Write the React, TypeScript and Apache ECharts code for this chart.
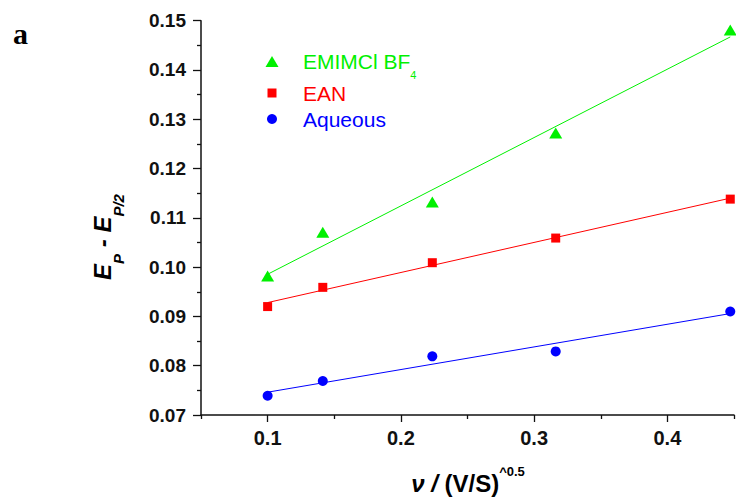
import React, { useEffect, useRef } from 'react';
import * as echarts from 'echarts';

// Scan rate^0.5 values (V/s)^0.5
const xValues = [0.1, 0.1414, 0.2236, 0.3162, 0.4472];
// Ep - Ep/2 values
const emimValues = [0.0982, 0.1071, 0.1132, 0.1272, 0.1481];
const eanValues = [0.092, 0.0959, 0.1009, 0.1059, 0.1138];
const aqueousValues = [0.0739, 0.0769, 0.0819, 0.0829, 0.091];

const seriesNames = ['EMIMCl BF4', 'EAN', 'Aqueous'];
const seriesColors = ['#00f000', '#ff0000', '#0000ff'];

const xMajorTicks = [0.1, 0.2, 0.3, 0.4];
const xMinorTicks = [0.05, 0.15, 0.25, 0.35, 0.45];

const FONT = 'Liberation Sans, Arial, sans-serif';

function linearFit(xs: number[], ys: number[]): number[][] {
  const n = xs.length;
  const mx = xs.reduce((a, b) => a + b, 0) / n;
  const my = ys.reduce((a, b) => a + b, 0) / n;
  let sxy = 0;
  let sxx = 0;
  for (let i = 0; i < n; i++) {
    sxy += (xs[i] - mx) * (ys[i] - my);
    sxx += (xs[i] - mx) * (xs[i] - mx);
  }
  const slope = sxy / sxx;
  const icpt = my - slope * mx;
  const x0 = Math.min(...xs);
  const x1 = Math.max(...xs);
  return [
    [x0, icpt + slope * x0],
    [x1, icpt + slope * x1],
  ];
}

function pairs(xs: number[], ys: number[]): number[][] {
  return xs.map((x, i) => [x, ys[i]]);
}

export default function App() {
  const ref = useRef<HTMLDivElement>(null);

  useEffect(() => {
    if (!ref.current) return;
    const chart = echarts.init(ref.current, null, { renderer: 'svg' });
    const allY = [emimValues, eanValues, aqueousValues];
    const symbols = ['triangle', 'rect', 'circle'];
    const symbolSizes: any[] = [[13, 11], 9, 10];

    const fitSeries = allY.map((ys, i) => ({
      type: 'line',
      name: seriesNames[i] + ' fit',
      data: linearFit(xValues, ys),
      symbol: 'none',
      lineStyle: { color: seriesColors[i], width: 1 },
      itemStyle: { color: seriesColors[i] },
      z: 1,
      silent: true,
    }));
    const scatterSeries = allY.map((ys, i) => ({
      type: 'scatter',
      name: seriesNames[i],
      data: pairs(xValues, ys),
      symbol: symbols[i],
      symbolSize: symbolSizes[i],
      symbolKeepAspect: true,
      itemStyle: { color: seriesColors[i], opacity: 1 },
      clip: false,
      z: 3,
    }));

    // icon centre x = 272, text starts at x = 303
    const legendTops = [51, 82.5, 108.5];
    const legendIconW = [13, 9, 10];
    const legendIconH = [11, 9, 10];
    const legends = seriesNames.map((name, i) => ({
      data: [name],
      orient: 'vertical',
      left: 272 - legendIconW[i] / 2,
      top: legendTops[i],
      padding: 0,
      itemWidth: legendIconW[i],
      itemHeight: legendIconH[i],
      symbolKeepAspect: true,
      selectedMode: false,
      formatter: i === 0 ? '{m|EMIMCl BF}{s|4}' : '{m|' + name + '}',
      textStyle: {
        color: seriesColors[i],
        fontFamily: FONT,
        fontSize: 21,
        rich: {
          m: {
            color: seriesColors[i],
            fontFamily: FONT,
            fontSize: 21,
            lineHeight: i === 0 ? 37 : 21,
            padding: [0, 0, 0, 303 - (272 + legendIconW[i] / 2) - 5],
          },
          s: {
            color: seriesColors[i],
            fontFamily: FONT,
            fontSize: 11,
            lineHeight: 11,
            verticalAlign: 'bottom',
          },
        },
      },
    }));

    chart.setOption({
      animation: false,
      backgroundColor: '#ffffff',
      grid: { left: 201, top: 20.7, right: 2, bottom: 82, containLabel: false },
      legend: legends,
      xAxis: [
        {
          type: 'value',
          position: 'bottom',
          min: 0.05,
          max: 0.45,
          interval: 0.05,
          axisLine: { show: true, onZero: false, lineStyle: { color: '#111', width: 1.5 } },
          axisTick: { show: true, length: 7, customValues: xMajorTicks, lineStyle: { color: '#111', width: 1.3 } },
          axisLabel: {
            customValues: xMajorTicks,
            formatter: (v: number) => v.toFixed(1),
            color: '#111',
            fontFamily: FONT,
            fontWeight: 'bold',
            fontSize: 20,
            margin: 13,
          },
          splitLine: { show: false },
        },
        {
          type: 'value',
          position: 'bottom',
          min: 0.05,
          max: 0.45,
          interval: 0.05,
          axisLine: { show: false, onZero: false },
          axisTick: { show: true, length: 4, customValues: xMinorTicks, lineStyle: { color: '#111', width: 1.3 } },
          axisLabel: { show: false },
          splitLine: { show: false },
        },
      ],
      yAxis: {
        type: 'value',
        min: 0.07,
        max: 0.15,
        interval: 0.01,
        axisLine: { show: true, onZero: false, lineStyle: { color: '#111', width: 1.5 } },
        axisTick: { show: true, length: 8, lineStyle: { color: '#111', width: 1.3 } },
        minorTick: { show: true, splitNumber: 2, length: 4, lineStyle: { color: '#111', width: 1.3 } },
        axisLabel: {
          formatter: (v: number) => v.toFixed(2),
          color: '#111',
          fontFamily: FONT,
          fontWeight: 'bold',
          fontSize: 19,
          margin: 15,
        },
        splitLine: { show: false },
        minorSplitLine: { show: false },
      },
      graphic: [
        {
          type: 'text',
          x: 13,
          y: 33,
          style: {
            text: 'a',
            fill: '#000',
            font: 'bold 30px "Liberation Serif", "Times New Roman", serif',
            align: 'left',
            verticalAlign: 'middle',
          },
        },
        {
          type: 'text',
          x: 102,
          y: 237,
          rotation: Math.PI / 2,
          style: {
            text: '{m|E}{s|P}{m| - E}{s|P/2}',
            align: 'center',
            verticalAlign: 'middle',
            fill: '#000',
            rich: {
              m: { fontFamily: FONT, fontWeight: 'bold', fontStyle: 'italic', fontSize: 24, lineHeight: 48, fill: '#000' },
              s: { fontFamily: FONT, fontWeight: 'bold', fontStyle: 'italic', fontSize: 15, lineHeight: 15, verticalAlign: 'bottom', fill: '#000' },
            },
          },
        },
        {
          type: 'text',
          x: 468,
          y: 483,
          style: {
            text: '{i|ν / }{m|(V/S)}{p|^0.5}',
            align: 'center',
            verticalAlign: 'middle',
            fill: '#000',
            rich: {
              i: { fontFamily: FONT, fontWeight: 'bold', fontStyle: 'italic', fontSize: 24, lineHeight: 44, fill: '#000' },
              m: { fontFamily: FONT, fontWeight: 'bold', fontSize: 24, lineHeight: 44, fill: '#000' },
              p: { fontFamily: FONT, fontWeight: 'bold', fontSize: 13, lineHeight: 13, verticalAlign: 'top', padding: [4, 0, 0, 0], fill: '#000' },
            },
          },
        },
      ],
      series: [...fitSeries, ...scatterSeries],
    });
    return () => chart.dispose();
  }, []);

  return (
    <div
      ref={ref}
      style={{ position: 'absolute', left: 0, top: 0, width: 736, height: 497 }}
    />
  );
}
